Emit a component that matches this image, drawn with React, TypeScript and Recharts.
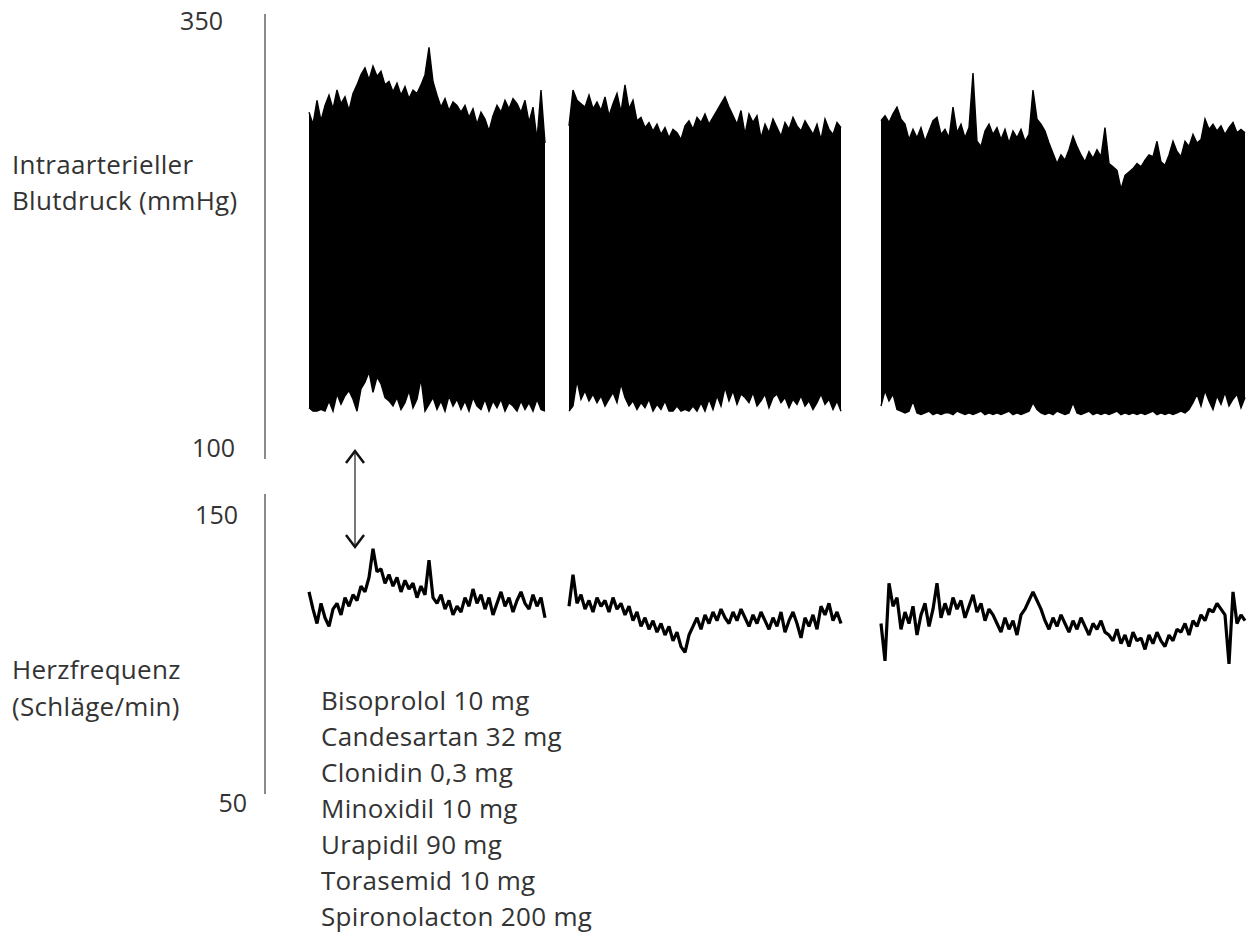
import React from "react";
import { ComposedChart, Area, Line, XAxis, YAxis, ReferenceLine } from "recharts";

// sample index where each recording segment starts (one sample ~ 4 px on the time axis)
const SEG_STARTS = [11, 76, 154];
const TIME_END = 245;

// systolic / diastolic envelope of the arterial pressure trace (mmHg)
const SYS_1 = [
  296, 289, 303, 291, 300,
  306, 298, 309, 301, 305, 297, 307,
  312, 318, 322, 315, 323, 317, 320, 312,
  314, 308, 313, 306, 311, 304, 309, 307, 312,
  318, 334, 314,
  306, 299, 304, 297, 302, 300, 296,
  300, 293, 298, 289, 296, 292, 285, 294,
  300, 296, 303, 298, 304, 301, 296, 303,
  290, 299, 280, 309, 278,
];
const DIA_1 = [
  123, 121, 121, 122, 121, 127, 121, 131,
  125, 130, 133, 128, 121, 134,
  138, 144, 132, 141, 137, 129,
  127, 124, 129, 122, 126, 133, 123, 128, 140, 121,
  125, 129, 122, 127, 121, 130, 124, 128, 122,
  127, 121, 129, 124, 122, 128, 121, 127, 123,
  128, 121, 126, 124, 121, 127, 122, 126, 121, 128, 122, 121,
];
const SYS_2 = [
  288, 309, 303, 301, 299, 306, 298, 302,
  297, 305, 294, 301, 307, 296, 312, 298, 303, 291,
  293, 287, 290, 285, 289, 283, 287, 281, 286, 284, 280,
  288, 291, 286, 293, 290, 295, 289, 293, 297, 301, 305,
  299, 294, 289, 297, 283, 295, 290, 294, 281, 289, 284, 292,
  287, 282, 290, 286, 293, 288, 285, 291, 287, 283, 289, 280, 292, 286, 283, 290, 287,
];
const DIA_2 = [
  121, 124, 139, 128, 133, 127, 131, 126,
  130, 124, 128, 132, 126, 137, 129, 124, 127, 122,
  126, 123, 128, 121, 125, 122, 127, 121, 121, 124, 121,
  122, 121, 124, 121, 126, 121, 128, 122, 130, 124, 135,
  127, 133, 125, 131, 129, 126, 132, 124, 127, 131, 123, 129,
  131, 126, 129, 123, 128, 125, 130, 124, 127, 122, 126, 131, 125, 128, 122, 127, 121,
];
const SYS_3 = [
  291, 294, 290, 295, 299, 292, 289, 280, 286, 281,
  287, 279, 285, 291, 293, 283, 286, 281, 299, 284,
  289, 281, 287, 319, 279, 276, 285, 289, 283, 287,
  280, 286, 278, 285, 281, 286, 279, 283, 309, 292,
  289, 285, 278, 272, 266, 271, 268, 274, 282, 276,
  271, 267, 273, 269, 274, 270, 287, 266, 264, 262,
  251, 259, 261, 263, 266, 264, 268, 271, 270, 279,
  267, 265, 271, 279, 273, 270, 279, 276, 283, 278,
  280, 292, 286, 289, 285, 288, 283, 287, 290, 284,
  286, 284,
];
const DIA_3 = [
  124, 133, 127, 131, 122, 121,
  120, 121, 127,
  120, 119, 120, 121, 119, 120, 119, 120, 120, 119, 121, 120, 119, 120, 119,
  120, 121, 119, 120, 119, 120, 119, 120, 121, 119, 120, 119, 120, 121,
  126, 122,
  120, 119, 120, 119, 121, 120, 119, 120,
  126,
  120, 119, 120, 121, 119, 120, 119, 120, 119, 120, 121, 119, 120, 119, 120,
  119, 120, 119, 120, 121, 119, 120, 119, 120, 119, 120, 121, 120, 122,
  126, 131, 124, 133, 127, 122, 130, 125, 132, 124, 128, 131, 123, 129,
];

// heart rate (beats/min)
const HR_1 = [
  123, 117, 112, 119, 114, 111, 117,
  119, 115, 121, 118, 122, 120, 125, 123, 128,
  138, 130,
  131, 126, 129, 125, 128, 123, 127, 124, 126, 121, 125, 122,
  134, 121,
  119, 122, 117, 120, 115, 118,
  116, 121, 118, 124, 119, 122, 117, 121, 115, 119, 123, 118, 121, 116, 120, 123, 119, 117, 122, 118, 121, 114,
];
const HR_2 = [
  118, 129, 119, 122, 117, 120, 116, 121, 118, 120, 116, 121, 117, 119,
  115, 118, 113, 116, 111, 114, 110, 113, 109, 112, 108, 111, 106, 109, 104,
  102, 108,
  111, 114, 110, 115, 112, 116, 113, 117, 114, 112, 116, 113, 117, 114, 111, 115, 112, 116, 113, 110,
  114, 111, 116, 109, 113, 116, 112, 107, 114, 111, 115, 110, 118, 115, 119, 113, 116, 112,
];
const HR_3 = [
  112, 99, 126, 118,
  121, 110, 116, 112, 118, 108, 115, 119, 111, 117, 126, 114,
  119, 115, 121, 117, 120, 114, 118, 122, 116, 119, 113, 117, 115,
  112, 109, 114, 110, 113, 108, 115, 117, 120,
  123, 120, 117,
  113, 110, 114, 111, 115, 112, 109, 113, 110, 114, 111, 108, 112, 110, 113, 109,
  108, 106, 110, 105, 108, 104, 109, 106, 107, 103, 108, 105, 109, 106, 104, 108, 106, 110,
  109, 112, 108, 113, 111, 115, 113, 117, 116, 119, 117, 115,
  98, 123, 112, 115, 113,
];

const DRUGS = [
  "Bisoprolol 10 mg",
  "Candesartan 32 mg",
  "Clonidin 0,3 mg",
  "Minoxidil 10 mg",
  "Urapidil 90 mg",
  "Torasemid 10 mg",
  "Spironolacton 200 mg",
];

const BP_TICKS = [100, 350];
const HR_TICKS = [50, 150];

const FONT = "'Open Sans', 'Noto Sans', sans-serif";
const TEXT = "#333";
const AXIS = "#8a8a8a";

type Row = { t: number; bp: [number, number] | null; hr: number | null };

function buildRows(): Row[] {
  const sys = [SYS_1, SYS_2, SYS_3];
  const dia = [DIA_1, DIA_2, DIA_3];
  const hr = [HR_1, HR_2, HR_3];
  const rows: Row[] = [];
  for (let t = 0; t <= TIME_END; t++) {
    const row: Row = { t, bp: null, hr: null };
    SEG_STARTS.forEach((s, k) => {
      const i = t - s;
      if (i >= 0 && i < sys[k].length) {
        row.bp = [dia[k][i], sys[k][i]];
        row.hr = hr[k][i];
      }
    });
    rows.push(row);
  }
  return rows;
}

const data = buildRows();

// the source figure places its tick numbers a little unevenly
const TICK_SHIFT: Record<number, number> = { 350: 42, 100: 30, 150: 27, 50: 18 };

function AxisTick(props: any) {
  const { x, y, payload } = props;
  const shift = TICK_SHIFT[payload.value] ?? 30;
  return (
    <text x={x - shift} y={y} textAnchor="end" dominantBaseline="central"
      fontFamily={FONT} fontSize={25} fill={TEXT}>
      {payload.value}
    </text>
  );
}

const labelStyle = { fontSize: 26, letterSpacing: "0.3px" };

export default function App() {
  return (
    <div style={{ position: "absolute", left: 0, top: 0, width: 1250, height: 933, background: "#fff", fontFamily: FONT, color: TEXT }}>
      <div style={{ position: "absolute", left: 0, top: 0 }}>
        <ComposedChart width={1250} height={470} data={data} margin={{ top: 14, right: 5, bottom: 11, left: 0 }}>
          <XAxis type="number" dataKey="t" domain={[0, TIME_END]} hide />
          <YAxis width={265} domain={[93, 353.5]} ticks={BP_TICKS} allowDataOverflow
            axisLine={{ stroke: AXIS, strokeWidth: 2 }} tickLine={false} tickSize={0} tickMargin={0}
            tick={<AxisTick />} />
          <Area dataKey="bp" type="linear" fill="#000" fillOpacity={1} stroke="#000" strokeWidth={1.4}
            connectNulls={false} dot={false} activeDot={false} isAnimationActive={false} />
        </ComposedChart>
      </div>

      <div style={{ position: "absolute", left: 0, top: 480 }}>
        <ComposedChart width={1250} height={340} data={data} margin={{ top: 14, right: 5, bottom: 18, left: 0 }}>
          <XAxis type="number" dataKey="t" domain={[0, TIME_END]} hide />
          <YAxis width={265} domain={[50, 157]} ticks={HR_TICKS} allowDataOverflow
            axisLine={false} tickLine={false} tickSize={0} tickMargin={0}
            tick={<AxisTick />} />
          <ReferenceLine segment={[{ x: 0, y: 52.8 }, { x: 0, y: 157 }]} stroke={AXIS} strokeWidth={2} />
          <Line dataKey="hr" type="linear" stroke="#000" strokeWidth={3.2} strokeLinejoin="bevel" dot={false} activeDot={false}
            connectNulls={false} isAnimationActive={false} />
        </ComposedChart>
      </div>

      <svg width={1250} height={933} style={{ position: "absolute", left: 0, top: 0, pointerEvents: "none" }}>
        <line x1={355} y1={451} x2={355} y2={547} stroke="#777" strokeWidth={2} />
        <polyline points="346,463 355,451 364,463" fill="none" stroke="#111" strokeWidth={2.5} />
        <polyline points="346,535 355,547 364,535" fill="none" stroke="#111" strokeWidth={2.5} />
      </svg>

      <div style={{ position: "absolute", left: 12, top: 146, lineHeight: "36px", ...labelStyle }}>
        <div>Intraarterieller</div>
        <div>Blutdruck (mmHg)</div>
      </div>
      <div style={{ position: "absolute", left: 12, top: 651, lineHeight: "37px", ...labelStyle }}>
        <div>Herzfrequenz</div>
        <div>(Schläge/min)</div>
      </div>
      <div style={{ position: "absolute", left: 321, top: 682, lineHeight: "36px", ...labelStyle }}>
        {DRUGS.map((d) => (
          <div key={d}>{d}</div>
        ))}
      </div>
    </div>
  );
}
